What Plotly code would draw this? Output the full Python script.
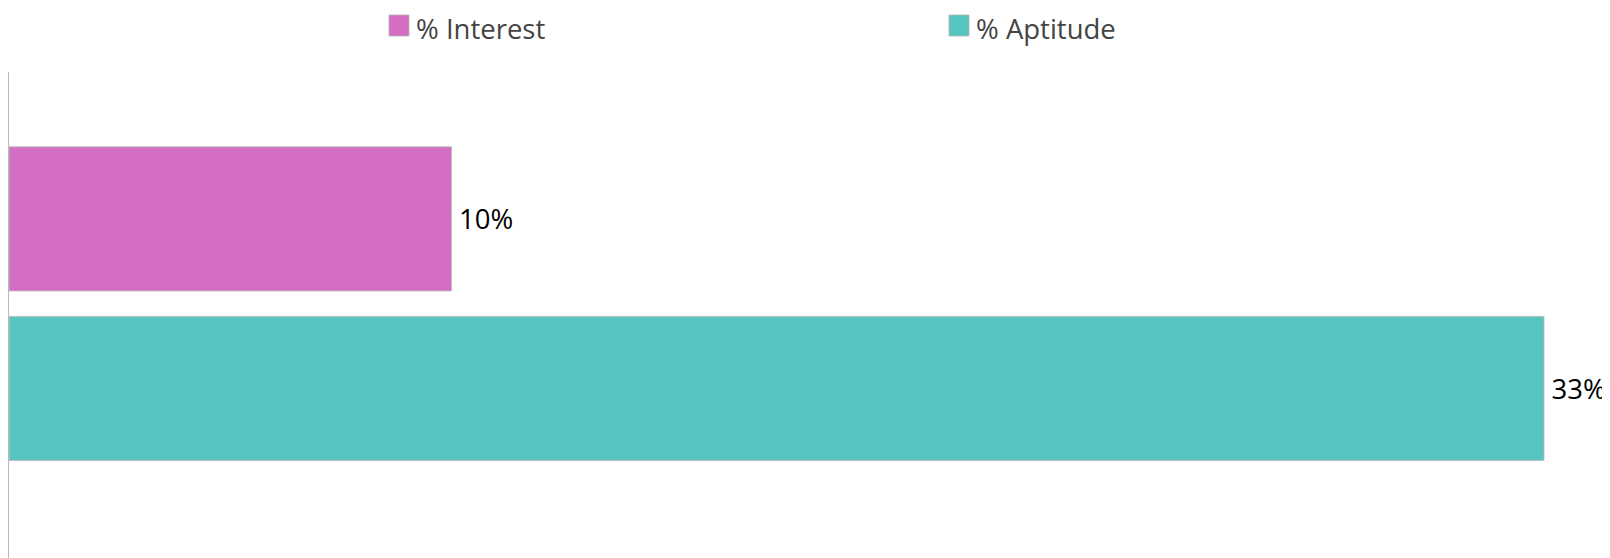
import plotly.graph_objects as go

# ---- data ----
series_names = ["% Interest", "% Aptitude"]
series_values = [9.6, 33.3]
series_colors = ["#D46EC2", "#56C5C0"]
category = ["Score"]

W, H = 1602, 550
ML, MR, MT, MB = 1, 60, 64, 0
PW, PH = W - ML - MR, H - MT - MB

def px_x(x):
    return (x - ML) / PW

def px_y(y):
    return (H - MB - y) / PH

FS = 27.5

fig = go.Figure()
for name, val, col in zip(series_names, series_values, series_colors):
    fig.add_trace(go.Bar(
        y=category, x=[val], name=name, orientation="h",
        marker=dict(color=col, line=dict(color="rgba(190,190,190,0.9)", width=1)),
        text=[val], texttemplate="\u2009%{x:.0f}%", textposition="outside",
        textfont=dict(family="Open Sans", size=FS, color="#000000"),
        cliponaxis=False, constraintext="none", showlegend=False,
    ))

# custom legend (larger swatches)
legend_pos = [(381, 407), (941, 967)]
shapes = []
annotations = []
for (sx, tx), name, col in zip(legend_pos, series_names, series_colors):
    shapes.append(dict(type="rect", xref="paper", yref="paper",
                       x0=px_x(sx), x1=px_x(sx + 20), y0=px_y(7), y1=px_y(28),
                       fillcolor=col, line=dict(color="rgba(180,180,180,0.8)", width=1)))
    annotations.append(dict(xref="paper", yref="paper", x=px_x(tx), y=px_y(1),
                            xanchor="left", yanchor="top", showarrow=False, borderpad=0,
                            text=name, font=dict(family="Open Sans", size=FS, color="#444444")))

fig.update_layout(
    width=W, height=H,
    margin=dict(l=ML, r=MR, t=MT, b=MB, pad=0),
    paper_bgcolor="white", plot_bgcolor="white",
    barmode="group", bargap=0.3, bargroupgap=0.15,
    xaxis=dict(range=[0, 33.43], showgrid=False, zeroline=False, showticklabels=False,
               showline=False, ticks=""),
    yaxis=dict(range=[0.5248, -0.4781], showgrid=False, zeroline=False, showticklabels=False,
               showline=True, linecolor="#b8b8b8", linewidth=1, ticks=""),
    shapes=shapes, annotations=annotations,
    showlegend=False,
)

fig.write_html("out.html")
